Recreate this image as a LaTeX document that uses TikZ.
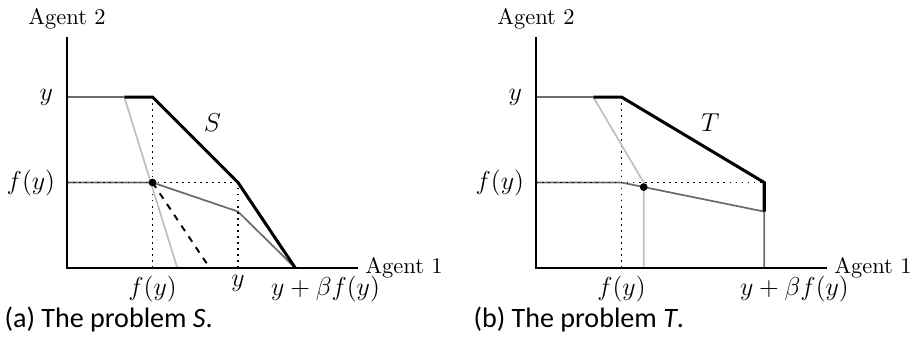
\documentclass[tikz,border=0pt]{standalone}
\usepackage{xcolor}
\usepackage{amssymb}
\usepackage{fontspec}
\newfontfamily\capfont{Carlito}
\usepackage{tikz}

\tikzset{
  frontier/.style={line width=1.4pt, black},
  midline/.style={line width=0.8pt, black!58},
  lightline/.style={line width=0.8pt, black!25},
  guide/.style={dotted, line width=0.8pt},
  axisline/.style={line width=0.9pt, black},
  mathlab/.style={font=\fontsize{11.6}{13}\selectfont},
  agentlab/.style={font=\fontsize{10.4}{12}\selectfont},
  captext/.style={font=\capfont\fontsize{13}{15}\selectfont, anchor=west}
}

\begin{document}
\begin{tikzpicture}[x=1.391cm, y=1.391cm]
\useasboundingbox (-0.784,-0.877) rectangle (9.895,3.135);

% (a) the problem S
\draw[midline] (0,1) -- (1,1) -- (2,0.66) -- (2.67,0);
\draw[guide] (0,1) -- (2,1);
\draw[guide] (1,0) -- (1,2);
\draw[guide] (2,0) -- (2,1);
\draw[midline] (0,2) -- (0.67,2);
\draw[lightline] (0.67,2) -- (1.29,0);
\draw[frontier] (0.67,2) -- (1,2) -- (2,1) -- (2.67,0);
\draw[dashed, line width=0.9pt] (1,1) -- (1.67,0);
\fill (1,1) circle (1.8pt);
\draw[axisline] (0,2.7) -- (0,0) -- (3.4,0);
\node[agentlab, above] (agtwoS) at (0,2.7) {Agent 2};
\node[agentlab, right] (agoneS) at (3.4,0) {Agent 1};
\node[mathlab, left=3pt] (yS) at (0,2) {$y$};
\node[mathlab, left=2pt] (fyS) at (0,1) {$f(y)$};
\node[mathlab, below] (fyxS) at (1,0) {$f(y)$};
\node[mathlab, below] (yxS) at (2,0) {$y$};
\node[mathlab, below, xshift=14pt] (maxS) at (2.67,0) {$y+\beta f(y)$};
\node[mathlab] (labS) at (1.7,1.7) {$S$};
\node[captext] (capS) at (-0.82,-0.6) {(a) The problem \textit{S}.};

% (b) the problem T
\begin{scope}[xshift=5.485*1.391cm]
\draw[midline] (0,1) -- (1,1) -- (2.67,0.66) -- (2.67,0);
\draw[guide] (0,1) -- (2.67,1);
\draw[guide] (1,0) -- (1,2);
\draw[midline] (0,2) -- (0.67,2);
\draw[lightline] (0.67,2) -- (1.26,1) -- (1.26,0);
\draw[frontier] (0.67,2) -- (1,2) -- (2.67,1) -- (2.67,0.66);
\fill (1.26,0.947) circle (1.8pt);
\draw[axisline] (0,2.7) -- (0,0) -- (3.4,0);
\node[agentlab, above] (agtwoT) at (0,2.7) {Agent 2};
\node[agentlab, right] (agoneT) at (3.4,0) {Agent 1};
\node[mathlab, left=3pt] (yT) at (0,2) {$y$};
\node[mathlab, left=2pt] (fyT) at (0,1) {$f(y)$};
\node[mathlab, below] (fyxT) at (1,0) {$f(y)$};
\node[mathlab, below, xshift=14pt] (maxT) at (2.67,0) {$y+\beta f(y)$};
\node[mathlab] (labT) at (2.04,1.7) {$T$};
\node[captext] (capT) at (-0.82,-0.6) {(b) The problem \textit{T}.};
\end{scope}
\end{tikzpicture}
\end{document}
